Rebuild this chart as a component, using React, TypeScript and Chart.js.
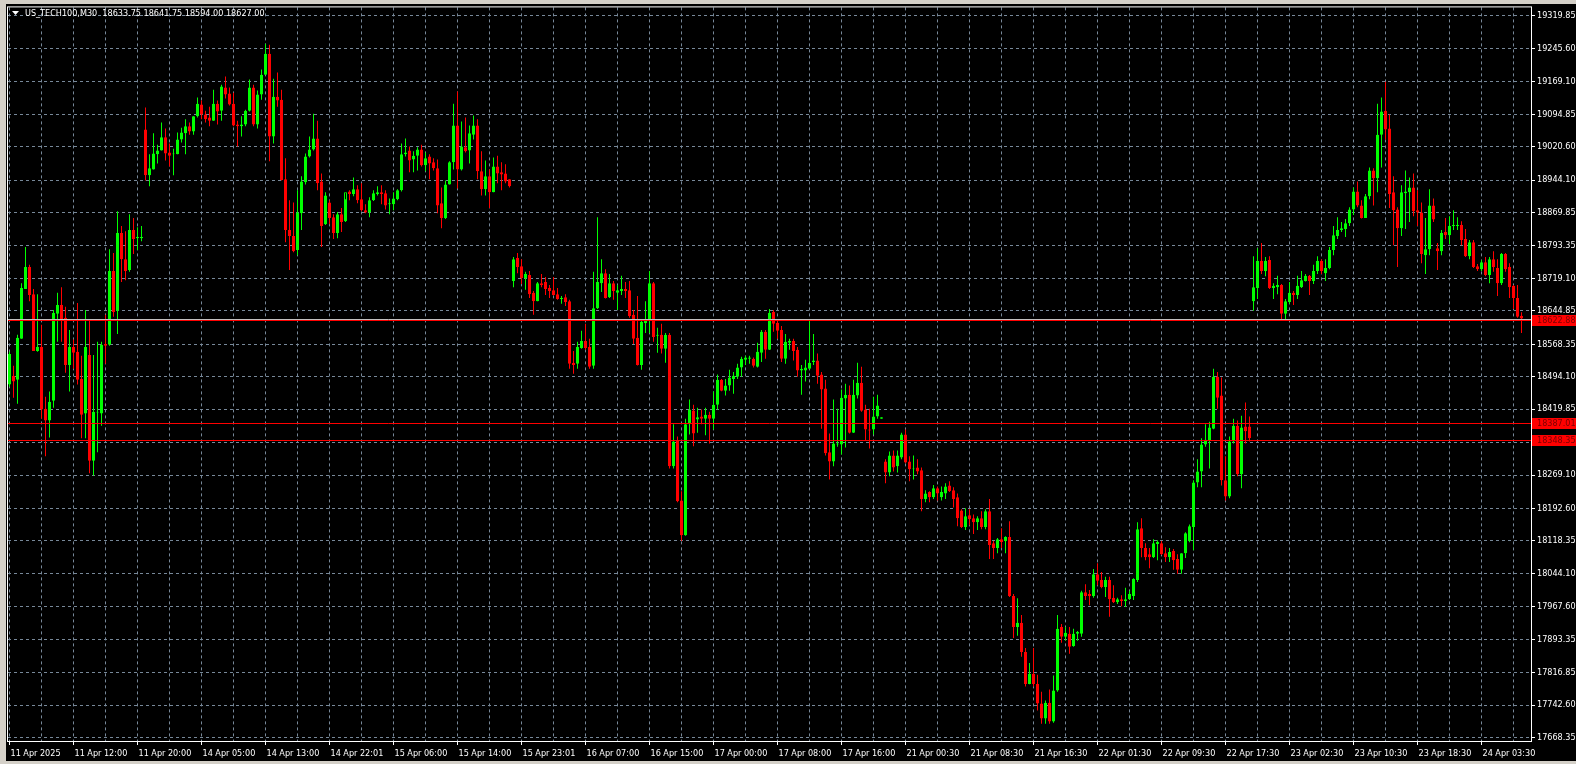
import React, { useEffect, useRef } from 'react';
import { Chart, registerables } from 'chart.js';

Chart.register(...registerables);

// ---- data (US_TECH100, M30) ----
const openPrices = [
  18476, 18496, 18487, 18581, 18695, 18745, 18683, 18553, 18562, 18421,
  18394, 18439, 18638, 18658, 18629, 18521, 18562, 18551, 18489, 18410,
  18544, 18302, 18412, 18410, 18569, 18567, 18736, 18645, 18823, 18763,
  18738, 18830, 18811, 18811, 19060, 18955, 18968, 19003, 19012, 19042,
  19007, 19003, 19003, 19037, 19051, 19067, 19055, 19090, 19117, 19094,
  19087, 19080, 19119, 19103, 19156, 19142, 19119, 19071, 19067, 19071,
  19103, 19156, 19071, 19140, 19185, 19233, 19044, 19135, 19128, 18946,
  18830, 18816, 18784, 18868, 18939, 18998, 19014, 19039, 18941, 18843,
  18893, 18859, 18823, 18866, 18850, 18918, 18912, 18923, 18900, 18875,
  18870, 18898, 18912, 18916, 18914, 18889, 18889, 18900, 18921, 19003,
  19012, 18991, 19000, 19014, 18978, 18998, 18985, 18971, 18891, 18857,
  18934, 18985, 19069, 18968, 19019, 19012, 19048, 19069, 18964, 18923,
  18953, 18916, 18975, 18962, 18959, 18946, 18713, 18766, 18747, 18720,
  18727, 18686, 18667, 18708, 18711, 18697, 18692, 18683, 18672, 18676,
  18667, 18526, 18524, 18560, 18576, 18562, 18519, 18651, 18708, 18731,
  18676, 18708, 18686, 18690, 18695, 18692, 18636, 18583, 18521, 18617,
  18626, 18708, 18588, 18590, 18558, 18590, 18289, 18348, 18211, 18131,
  18385, 18417, 18396, 18403, 18398, 18407, 18398, 18430, 18487, 18462,
  18474, 18489, 18494, 18515, 18533, 18535, 18535, 18517, 18549, 18597,
  18556, 18642, 18617, 18601, 18535, 18572, 18576, 18556, 18508, 18508,
  18512, 18528, 18531, 18499, 18467, 18321, 18300, 18339, 18339, 18444,
  18453, 18366, 18451, 18480, 18419, 18373, 18373, 18403, 18398, 18300,
  18275, 18314, 18289, 18309, 18362, 18300, 18282, 18286, 18280, 18214,
  18230, 18218, 18239, 18218, 18227, 18245, 18234, 18218, 18188, 18150,
  18177, 18170, 18161, 18170, 18150, 18186, 18113, 18102, 18122, 18118,
  18127, 17992, 17921, 17931, 17864, 17791, 17814, 17791, 17746, 17712,
  17748, 17705, 17776, 17921, 17899, 17906, 17878, 17906, 17906, 18001,
  17997, 17992, 18042, 18029, 18013, 18029, 17988, 17978, 17985, 17981,
  17985, 17992, 18029, 18147, 18102, 18088, 18081, 18111, 18113, 18090,
  18081, 18095, 18077, 18052, 18090, 18118, 18150, 18252, 18277, 18339,
  18348, 18375, 18494, 18451, 18257, 18220, 18346, 18382, 18271, 18380,
  18380, 18667, 18697, 18759, 18736, 18761, 18697, 18699, 18704, 18638,
  18665, 18686, 18681, 18699, 18713, 18725, 18713, 18736, 18759, 18731,
  18743, 18784, 18816, 18830, 18832, 18845, 18877, 18918, 18886, 18857,
  18907, 18966, 18948, 19048, 19103, 19062, 18916, 18877, 18834, 18914,
  18916, 18927, 18875, 18870, 18772, 18786, 18886, 18788, 18781, 18825,
  18818, 18839, 18839, 18841, 18809, 18770, 18802, 18747, 18740, 18756,
  18727, 18763, 18743, 18708, 18775, 18745, 18702, 18674, 18633.75,
];

const highPrices = [
  18551, 18519, 18590, 18708, 18791, 18750, 18695, 18683, 18613, 18448,
  18460, 18647, 18686, 18699, 18654, 18601, 18579, 18663, 18542, 18647,
  18622, 18544, 18574, 18574, 18636, 18786, 18777, 18873, 18839, 18827,
  18866, 18857, 18836, 18839, 19110, 19003, 19051, 19025, 19076, 19062,
  19028, 19016, 19053, 19064, 19083, 19076, 19090, 19133, 19126, 19103,
  19112, 19151, 19126, 19162, 19181, 19156, 19144, 19080, 19090, 19105,
  19174, 19162, 19149, 19197, 19256, 19254, 19176, 19190, 19151, 18994,
  18898, 18893, 18921, 18953, 19005, 19044, 19096, 19080, 18959, 18916,
  18898, 18866, 18871, 18880, 18900, 18921, 18950, 18932, 18937, 18889,
  18905, 18921, 18930, 18932, 18921, 18902, 18916, 18923, 19028, 19039,
  19021, 19010, 19019, 19025, 19007, 19003, 18994, 18991, 18927, 18943,
  18987, 19119, 19147, 19078, 19087, 19069, 19092, 19083, 19010, 18989,
  18968, 18996, 19000, 18985, 18980, 18946, 18768, 18777, 18763, 18734,
  18736, 18690, 18711, 18729, 18722, 18704, 18722, 18697, 18679, 18683,
  18670, 18553, 18574, 18599, 18615, 18581, 18734, 18859, 18763, 18740,
  18729, 18713, 18704, 18725, 18711, 18713, 18647, 18679, 18626, 18667,
  18736, 18711, 18606, 18615, 18594, 18594, 18385, 18357, 18232, 18398,
  18442, 18430, 18423, 18419, 18423, 18414, 18460, 18499, 18489, 18489,
  18510, 18505, 18524, 18540, 18542, 18542, 18538, 18572, 18601, 18601,
  18649, 18647, 18624, 18610, 18592, 18581, 18581, 18562, 18521, 18533,
  18622, 18592, 18547, 18505, 18487, 18364, 18442, 18421, 18465, 18478,
  18474, 18487, 18526, 18517, 18430, 18421, 18448, 18453, 18401, 18305,
  18323, 18325, 18325, 18366, 18373, 18312, 18314, 18305, 18286, 18234,
  18232, 18246, 18243, 18243, 18250, 18255, 18241, 18227, 18191, 18193,
  18191, 18179, 18175, 18186, 18191, 18214, 18118, 18125, 18147, 18129,
  18163, 17997, 17987, 17949, 17873, 17839, 17873, 17812, 17773, 17753,
  17778, 17810, 17949, 17928, 17921, 17921, 17917, 17912, 18004, 18019,
  18006, 18054, 18067, 18047, 18036, 18036, 18017, 17988, 17994, 18011,
  18004, 18033, 18161, 18170, 18113, 18102, 18122, 18120, 18118, 18104,
  18102, 18100, 18088, 18090, 18138, 18156, 18257, 18305, 18353, 18385,
  18391, 18512, 18505, 18492, 18312, 18357, 18398, 18394, 18405, 18435,
  18403, 18770, 18788, 18800, 18768, 18770, 18708, 18725, 18706, 18672,
  18711, 18690, 18725, 18736, 18729, 18727, 18750, 18770, 18763, 18763,
  18791, 18839, 18859, 18848, 18855, 18882, 18927, 18941, 18898, 18912,
  18973, 18971, 19119, 19133, 19169, 19094, 18953, 18882, 18932, 18966,
  18950, 18959, 18921, 18893, 18857, 18923, 18902, 18800, 18830, 18857,
  18861, 18875, 18859, 18850, 18832, 18807, 18807, 18752, 18761, 18768,
  18768, 18781, 18763, 18777, 18777, 18754, 18704, 18704, 18641.75,
];

const lowPrices = [
  18471, 18446, 18432, 18581, 18695, 18667, 18553, 18551, 18398, 18312,
  18355, 18423, 18574, 18574, 18503, 18460, 18512, 18476, 18353, 18353,
  18273, 18268, 18321, 18382, 18524, 18565, 18631, 18592, 18711, 18715,
  18734, 18775, 18784, 18804, 18943, 18930, 18968, 18982, 19012, 18989,
  18975, 18955, 19003, 19030, 19003, 19048, 19048, 19087, 19083, 19076,
  19067, 19080, 19071, 19080, 19131, 19115, 19067, 19021, 19044, 19067,
  19101, 19067, 19062, 19128, 19185, 18987, 19028, 19112, 18943, 18802,
  18738, 18779, 18772, 18830, 18934, 18996, 19012, 18921, 18791, 18841,
  18843, 18809, 18811, 18825, 18848, 18898, 18907, 18891, 18873, 18868,
  18859, 18896, 18909, 18889, 18877, 18866, 18875, 18898, 18918, 18998,
  18962, 18962, 18966, 18975, 18964, 18946, 18966, 18868, 18834, 18855,
  18934, 18968, 18925, 18966, 19007, 18982, 19037, 18946, 18909, 18909,
  18880, 18916, 18937, 18921, 18937, 18927, 18699, 18731, 18706, 18693,
  18674, 18636, 18667, 18699, 18681, 18674, 18680, 18670, 18661, 18656,
  18512, 18501, 18512, 18558, 18556, 18512, 18512, 18649, 18688, 18673,
  18674, 18670, 18647, 18681, 18674, 18629, 18569, 18520, 18510, 18594,
  18594, 18574, 18549, 18547, 18526, 18284, 18284, 18207, 18118, 18130,
  18362, 18335, 18366, 18385, 18360, 18341, 18373, 18419, 18461, 18451,
  18462, 18455, 18489, 18494, 18521, 18524, 18515, 18515, 18528, 18535,
  18555, 18597, 18581, 18528, 18524, 18556, 18531, 18494, 18453, 18483,
  18511, 18521, 18478, 18375, 18314, 18259, 18289, 18334, 18316, 18332,
  18364, 18365, 18444, 18414, 18348, 18330, 18362, 18398, 18398, 18250,
  18266, 18277, 18275, 18305, 18296, 18255, 18259, 18271, 18186, 18207,
  18207, 18214, 18211, 18211, 18214, 18230, 18195, 18152, 18148, 18143,
  18154, 18134, 18143, 18145, 18145, 18077, 18077, 18090, 18102, 18090,
  17990, 17896, 17901, 17853, 17785, 17790, 17785, 17730, 17700, 17700,
  17700, 17702, 17773, 17885, 17890, 17860, 17876, 17890, 17899, 17983,
  17971, 17988, 18017, 18010, 17990, 17945, 17976, 17974, 17969, 17967,
  17983, 17983, 18024, 18081, 18074, 18056, 18079, 18074, 18086, 18070,
  18070, 18052, 18043, 18043, 18079, 18115, 18097, 18241, 18241, 18334,
  18284, 18374, 18421, 18245, 18211, 18216, 18341, 18266, 18239, 18341,
  18346, 18645, 18672, 18729, 18724, 18695, 18672, 18683, 18624, 18624,
  18661, 18658, 18672, 18697, 18712, 18681, 18706, 18729, 18729, 18713,
  18740, 18772, 18809, 18825, 18814, 18839, 18864, 18882, 18856, 18857,
  18900, 18886, 18916, 18973, 19037, 18880, 18795, 18745, 18816, 18832,
  18848, 18861, 18839, 18754, 18729, 18772, 18848, 18738, 18772, 18809,
  18798, 18830, 18830, 18795, 18768, 18763, 18743, 18736, 18736, 18724,
  18708, 18734, 18679, 18704, 18734, 18674, 18649, 18629, 18594,
];

const closePrices = [
  18546, 18483, 18583, 18697, 18745, 18681, 18553, 18562, 18419, 18394,
  18437, 18640, 18658, 18626, 18521, 18562, 18549, 18487, 18407, 18562,
  18302, 18414, 18414, 18567, 18565, 18736, 18642, 18823, 18763, 18736,
  18830, 18809, 18814, 18814, 18955, 18971, 19005, 19012, 19042, 19005,
  19000, 19005, 19037, 19053, 19067, 19055, 19090, 19119, 19094, 19083,
  19080, 19119, 19101, 19158, 19140, 19117, 19069, 19067, 19071, 19103,
  19156, 19071, 19140, 19185, 19233, 19044, 19135, 19126, 18944, 18830,
  18816, 18781, 18870, 18941, 18998, 19014, 19039, 18937, 18839, 18909,
  18857, 18823, 18866, 18848, 18916, 18912, 18923, 18898, 18875, 18870,
  18898, 18914, 18916, 18912, 18886, 18891, 18902, 18921, 19003, 19007,
  18989, 19000, 19014, 18978, 18994, 18982, 18971, 18886, 18857, 18934,
  18985, 19069, 18968, 19021, 19010, 19051, 19069, 18964, 18923, 18953,
  18916, 18975, 18959, 18957, 18941, 18930, 18763, 18745, 18720, 18729,
  18683, 18667, 18708, 18704, 18695, 18690, 18681, 18672, 18674, 18665,
  18524, 18521, 18562, 18576, 18560, 18517, 18651, 18711, 18731, 18674,
  18708, 18690, 18692, 18695, 18690, 18633, 18581, 18521, 18620, 18626,
  18708, 18585, 18590, 18558, 18590, 18289, 18346, 18209, 18131, 18385,
  18419, 18364, 18401, 18398, 18407, 18398, 18430, 18487, 18462, 18474,
  18492, 18496, 18515, 18535, 18538, 18538, 18519, 18551, 18597, 18556,
  18640, 18615, 18599, 18535, 18574, 18576, 18553, 18508, 18512, 18515,
  18526, 18531, 18496, 18465, 18319, 18300, 18341, 18341, 18446, 18453,
  18366, 18453, 18480, 18416, 18373, 18371, 18403, 18428, 18401, 18275,
  18314, 18286, 18314, 18362, 18298, 18282, 18284, 18277, 18214, 18227,
  18218, 18239, 18227, 18230, 18243, 18232, 18214, 18170, 18150, 18175,
  18168, 18161, 18170, 18150, 18186, 18109, 18102, 18122, 18116, 18127,
  17992, 17921, 17931, 17864, 17791, 17814, 17791, 17746, 17712, 17748,
  17705, 17776, 17917, 17899, 17908, 17876, 17906, 17910, 18001, 17992,
  17992, 18042, 18027, 18013, 18029, 17985, 17978, 17985, 17981, 17985,
  17997, 18031, 18145, 18102, 18081, 18081, 18113, 18116, 18088, 18081,
  18093, 18074, 18052, 18090, 18136, 18152, 18252, 18277, 18339, 18350,
  18378, 18494, 18446, 18257, 18220, 18346, 18382, 18271, 18378, 18369,
  18353, 18699, 18759, 18736, 18759, 18697, 18702, 18704, 18638, 18667,
  18686, 18681, 18702, 18715, 18725, 18713, 18736, 18759, 18736, 18743,
  18784, 18818, 18830, 18834, 18845, 18877, 18918, 18886, 18857, 18907,
  18966, 18948, 19048, 19101, 19060, 18912, 18875, 18834, 18916, 18918,
  18927, 18873, 18870, 18775, 18786, 18886, 18854, 18781, 18823, 18818,
  18839, 18841, 18841, 18807, 18770, 18802, 18745, 18740, 18756, 18727,
  18763, 18745, 18708, 18775, 18740, 18699, 18674, 18631, 18627,
];

// one label every 16 bars (8 hours of M30)
const timeLabels = [
  '11 Apr 2025', '11 Apr 12:00', '11 Apr 20:00', '14 Apr 05:00', '14 Apr 13:00', '14 Apr 22:01',
  '15 Apr 06:00', '15 Apr 14:00', '15 Apr 23:01', '16 Apr 07:00', '16 Apr 15:00', '17 Apr 00:00',
  '17 Apr 08:00', '17 Apr 16:00', '21 Apr 00:30', '21 Apr 08:30', '21 Apr 16:30', '22 Apr 01:30',
  '22 Apr 09:30', '22 Apr 17:30', '23 Apr 02:30', '23 Apr 10:30', '23 Apr 18:30', '24 Apr 03:30',
];

const priceTicks = [
  19319.85, 19245.6, 19169.1, 19094.85, 19020.6, 18944.1, 18869.85, 18793.35, 18719.1, 18644.85,
  18568.35, 18494.1, 18419.85, 18343.35, 18269.1, 18192.6, 18118.35, 18044.1, 17967.6, 17893.35,
  17816.85, 17742.6, 17668.35,
];

const levelLines = [18622.88, 18387.01, 18348.35];
const bidPrice = 18627.0;
const symbolTitle = 'US_TECH100,M30';
const lastBarOHLC = [18633.75, 18641.75, 18594.0, 18627.0];

// ---- styles ----
const BULL = '#00ff00';
const BEAR = '#ff0000';
const GRID = '#778899';
const FRAME = '#d4d0c8';
const FONT = "'DejaVu Sans Condensed', 'Liberation Sans', sans-serif";
const FONT_SIZE = 9;

export default function App() {
  const ref = useRef<HTMLCanvasElement | null>(null);

  useEffect(() => {
    document.body.style.margin = '0';
    const canvas = ref.current;
    if (!canvas) return;

    const idx = openPrices.map((_, i) => i);
    const up = idx.map((i) => closePrices[i] >= openPrices[i]);
    const wicks = idx.map((i) => ({ x: i, y: [lowPrices[i], highPrices[i]] }));
    const bodies = idx.map((i) => ({ x: i, y: [openPrices[i], closePrices[i]] }));
    const gridIdx: number[] = [];
    for (let v = 0; v < openPrices.length; v += 8) gridIdx.push(v);

    const chrome = {
      id: 'mtChrome',
      beforeDraw(chart: any) {
        const { ctx, width, height } = chart;
        ctx.save();
        ctx.fillStyle = '#000';
        ctx.fillRect(0, 0, width, height);
        ctx.fillStyle = FRAME;
        ctx.fillRect(0, 0, width, 4);
        ctx.fillRect(0, 0, 6, height);
        ctx.fillRect(0, 761, width, height - 761);
        ctx.restore();
      },
      afterDatasetsDraw(chart: any) {
        const { ctx, chartArea: a, scales } = chart;
        const ys = scales.y;
        ctx.save();
        ctx.beginPath();
        ctx.rect(a.left, a.top, a.right - a.left, a.bottom - a.top);
        ctx.clip();
        ctx.lineWidth = 1;
        const yb = Math.round(ys.getPixelForValue(bidPrice)) + 0.5;
        ctx.strokeStyle = '#c0c0c0';
        ctx.beginPath();
        ctx.moveTo(a.left, yb);
        ctx.lineTo(a.right, yb);
        ctx.stroke();
        ctx.strokeStyle = BEAR;
        levelLines.forEach((v) => {
          const py = Math.round(ys.getPixelForValue(v)) + 0.5;
          ctx.beginPath();
          ctx.moveTo(a.left, py);
          ctx.lineTo(a.right, py);
          ctx.stroke();
        });
        ctx.restore();
      },
      afterDraw(chart: any) {
        const { ctx, chartArea: a, scales, width } = chart;
        const ys = scales.y;
        ctx.save();
        // frame
        ctx.strokeStyle = '#ffffff';
        ctx.lineWidth = 1;
        ctx.strokeRect(a.left - 0.5, a.top - 0.5, a.right - a.left + 1, a.bottom - a.top + 1);
        // price boxes for the horizontal lines
        ctx.font = `${FONT_SIZE}px ${FONT}`;
        ctx.textBaseline = 'middle';
        ctx.textAlign = 'left';
        levelLines.forEach((v) => {
          const py = Math.round(ys.getPixelForValue(v));
          ctx.fillStyle = BEAR;
          ctx.fillRect(a.right + 1, py - 5, width - a.right - 1, 11);
          ctx.fillStyle = '#7a0000';
          ctx.fillText(v.toFixed(2), a.right + 6, py + 0.5);
        });
        // title
        ctx.fillStyle = '#ffffff';
        ctx.beginPath();
        ctx.moveTo(12, 11);
        ctx.lineTo(19, 11);
        ctx.lineTo(15.5, 15);
        ctx.closePath();
        ctx.fill();
        ctx.fillText(
          `${symbolTitle}  ${lastBarOHLC.map((v) => v.toFixed(2)).join(' ')}`,
          25,
          13.5
        );
        ctx.restore();
      },
    };

    const chart = new Chart(canvas, {
      type: 'bar',
      data: {
        datasets: [
          {
            data: wicks as any,
            backgroundColor: idx.map((i) => (up[i] ? BULL : BEAR)),
            borderWidth: 0,
            barThickness: 1,
            grouped: false,
            inflateAmount: 0,
            borderSkipped: false,
          } as any,
          {
            data: bodies as any,
            backgroundColor: idx.map((i) => (up[i] ? '#000000' : BEAR)),
            borderColor: idx.map((i) => (up[i] ? BULL : BEAR)),
            borderWidth: 1,
            barThickness: 3,
            grouped: false,
            inflateAmount: 0,
            borderSkipped: false,
          } as any,
        ],
      },
      options: {
        animation: false,
        responsive: false,
        devicePixelRatio: 1,
        events: [],
        layout: { padding: { left: 8, top: 5, right: 0, bottom: 0 } },
        plugins: { legend: { display: false }, tooltip: { enabled: false }, title: { display: false } },
        scales: {
          x: {
            type: 'linear',
            position: 'bottom',
            min: -0.375,
            max: 380.375,
            offset: false,
            afterFit: (s: any) => {
              s.height = 23;
            },
            afterBuildTicks: (s: any) => {
              s.ticks = gridIdx.map((v) => ({ value: v }));
            },
            ticks: {
              autoSkip: false,
              maxRotation: 0,
              minRotation: 0,
              align: 'start',
              labelOffset: 1,
              padding: 3,
              color: '#ffffff',
              font: { family: FONT, size: FONT_SIZE },
              callback: (v: any) => (v % 16 === 0 ? timeLabels[v / 16] : ''),
            },
            grid: {
              color: GRID,
              lineWidth: 1,
              offset: false,
              drawTicks: true,
              tickLength: 4,
              tickColor: (c: any) => (c.tick && c.tick.value % 16 === 0 ? '#ffffff' : 'rgba(0,0,0,0)'),
            },
            border: { display: false, dash: [3, 3] },
          } as any,
          y: {
            type: 'linear',
            position: 'right',
            min: 17660.37,
            max: 19339.24,
            afterFit: (s: any) => {
              s.width = 45;
            },
            afterBuildTicks: (s: any) => {
              s.ticks = priceTicks.map((v) => ({ value: v }));
            },
            ticks: {
              autoSkip: false,
              padding: 2,
              color: '#ffffff',
              font: { family: FONT, size: FONT_SIZE },
              callback: (v: any) => Number(v).toFixed(2),
            },
            grid: { color: GRID, lineWidth: 1, tickLength: 4, tickColor: '#ffffff' },
            border: { display: false, dash: [3, 3] },
          } as any,
        },
      },
      plugins: [chrome],
    });

    return () => chart.destroy();
  }, []);

  return (
    <div style={{ position: 'absolute', left: 0, top: 0, width: 1576, height: 764, background: '#000' }}>
      <canvas ref={ref} width={1576} height={764} style={{ display: 'block', width: 1576, height: 764 }} />
    </div>
  );
}
